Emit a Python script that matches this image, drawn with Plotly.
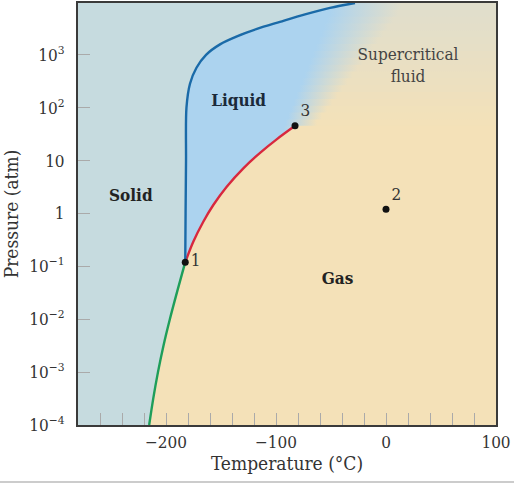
import plotly.graph_objects as go

# ---- data (temperature in °C, pressure in atm) ----
melt_T = [-182.5, -182.2, -181.8, -181.4, -178.2, -172.3, -163.6, -150.9, -135.5, -117.3, -96.4, -73.6, -50.9, -28.2]
melt_P = [0.12, 1.0, 10.0, 100.0, 284.0, 569.0, 1000.0, 1578.0, 2234.0, 3090.0, 4198.0, 5808.0, 7709.0, 9570.0]

vap_T = [-182.5, -175.2, -166.1, -157.0, -144.8, -129.7, -114.5, -99.4, -82.7]
vap_P = [0.12, 0.292, 0.698, 1.445, 3.21, 7.15, 14.0, 25.2, 45.4]

sub_T = [-182.5, -189.5, -196.5, -202.3, -207.3, -211.6, -215.3]
sub_P = [0.12, 0.0355, 0.01, 0.00316, 0.001, 0.000316, 0.0001]

pt_T = [-182.5, 0.0, -82.7]
pt_P = [0.12, 1.2, 45.4]
pt_labels = ["1", "2", "3"]

region_names = ["<b>Solid</b>", "<b>Liquid</b>", "<b>Gas</b>", "Supercritical<br>fluid"]
region_T = [-232, -134, -44, 20]
region_P = [2.1, 129, 0.055, 590]

x_tickvals = [-200, -100, 0, 100]
x_ticktext = ["\u2212200", "\u2212100", "0", "100"]
y_tickvals = [1e-4, 1e-3, 1e-2, 1e-1, 1, 10, 100, 1000]
y_ticktext = ["10<sup>\u22124</sup>", "10<sup>\u22123</sup>", "10<sup>\u22122</sup>",
              "10<sup>\u22121</sup>", "1", "10", "10<sup>2</sup>", "10<sup>3</sup>"]

# ---- style ----
X0, X1 = -280, 100
LOG0, LOG1 = -4, 3.98
TOP = 10 ** LOG1
BOT = 10 ** LOG0
SOLID_C = "#c6dbdf"
LIQ_C = "#acd3ef"
GAS_C = "#f4e1b8"
FONT = "DejaVu Serif Condensed, Liberation Serif, serif"
TXT = "#333333"

fig = go.Figure()

# supercritical blend: thin horizontal bands, each with a horizontal fill gradient
N = 40
lo_log, hi_log = -1.2, LOG1
for i in range(N):
    a = lo_log + (hi_log - lo_log) * i / N
    b = min(lo_log + (hi_log - lo_log) * (i + 1.6) / N, LOG1 + 0.05)
    m = 0.5 * (a + min(b, hi_log))
    t = max(0.0, min(1.0, (m - 1.66) / (3.9 - 1.66)))
    start = -93 + t * 43
    stop = -66 + t * 80
    endc = "rgb(%d,%d,%d)" % (round(244 - t * 20), round(225 - t * 3), round(184 + t * 20))
    fig.add_trace(go.Scatter(
        x=[-195, X1 + 5, X1 + 5, -195, -195],
        y=[10 ** a, 10 ** a, 10 ** b, 10 ** b, 10 ** a],
        mode="lines", line=dict(width=0), fill="toself",
        fillgradient=dict(type="horizontal", start=start, stop=stop,
                          colorscale=[[0, LIQ_C], [1, endc]]),
        hoverinfo="skip", showlegend=False))

# solid region
sx = [X0 - 5, X0 - 5, melt_T[-1] + 2] + melt_T[::-1] + sub_T[1:] + [sub_T[-1] - 2, X0 - 5]
sy = [BOT / 2, TOP * 2, TOP * 2] + melt_P[::-1] + sub_P[1:] + [BOT / 2, BOT / 2]
fig.add_trace(go.Scatter(x=sx, y=sy, mode="lines", line=dict(width=0), fill="toself",
                         fillcolor=SOLID_C, hoverinfo="skip", showlegend=False))

# gas region
gx = vap_T + [X1 + 5, X1 + 5] + sub_T[::-1]
gy = vap_P + [vap_P[-1], BOT / 2] + [BOT / 2] + sub_P[::-1][1:]
fig.add_trace(go.Scatter(x=gx, y=gy, mode="lines", line=dict(width=0), fill="toself",
                         fillcolor=GAS_C, hoverinfo="skip", showlegend=False))

# phase boundaries
for xs, ys, col in [(sub_T, sub_P, "#1e9e5a"), (vap_T, vap_P, "#d8283e"), (melt_T, melt_P, "#1a6aa8")]:
    fig.add_trace(go.Scatter(x=xs, y=ys, mode="lines",
                             line=dict(color=col, width=2.4, shape="spline", smoothing=0.9),
                             hoverinfo="skip", showlegend=False))

# labelled points
fig.add_trace(go.Scatter(x=pt_T, y=pt_P, mode="markers+text", text=pt_labels,
                         textposition=["middle right", "top right", "top right"],
                         marker=dict(color="#111", size=7),
                         textfont=dict(family=FONT, size=17, color=TXT),
                         hoverinfo="skip", showlegend=False))

# region labels
fig.add_trace(go.Scatter(x=region_T, y=region_P, mode="text", text=region_names,
                         textfont=dict(family=FONT, size=17,
                                       color=["#222", "#1b2a3a", "#222", "#444"]),
                         hoverinfo="skip", showlegend=False))

fig.update_xaxes(range=[X0, X1], tickvals=x_tickvals, ticktext=x_ticktext, automargin=False,
                 ticks="inside", ticklen=12, tickcolor="#aaaaaa", tickwidth=1,
                 minor=dict(dtick=20, ticks="inside", ticklen=12, tickcolor="#aaaaaa", tickwidth=1),
                 showgrid=False, zeroline=False, ticklabelstandoff=1,
                 showline=True, linecolor="#3a3a3a", linewidth=2, mirror=True,
                 tickfont=dict(family=FONT, size=17, color=TXT),
                 title=dict(text="Temperature (\u00b0C)", font=dict(family=FONT, size=19, color=TXT),
                            standoff=4))
fig.update_yaxes(type="log", range=[LOG0, LOG1], tickvals=y_tickvals, ticktext=y_ticktext, automargin=False,
                 ticks="inside", ticklen=12, tickcolor="#aaaaaa", tickwidth=1,
                 showgrid=False, zeroline=False, ticklabelstandoff=8,
                 showline=True, linecolor="#3a3a3a", linewidth=2, mirror=True,
                 tickfont=dict(family=FONT, size=17, color=TXT),
                 title=dict(text="Pressure (atm)", font=dict(family=FONT, size=19, color=TXT),
                            standoff=7))

fig.add_shape(type="line", xref="paper", yref="paper", x0=-0.2, x1=1.1, y0=-0.135, y1=-0.135,
              line=dict(color="#bbbbbb", width=1.5))

fig.update_layout(width=514, height=484, margin=dict(l=78, r=18, t=3, b=59, autoexpand=False),
                  paper_bgcolor="white", plot_bgcolor=GAS_C, showlegend=False)

fig.write_html("out.html", config={"displayModeBar": False},
               post_script="document.body.style.margin='0';")
